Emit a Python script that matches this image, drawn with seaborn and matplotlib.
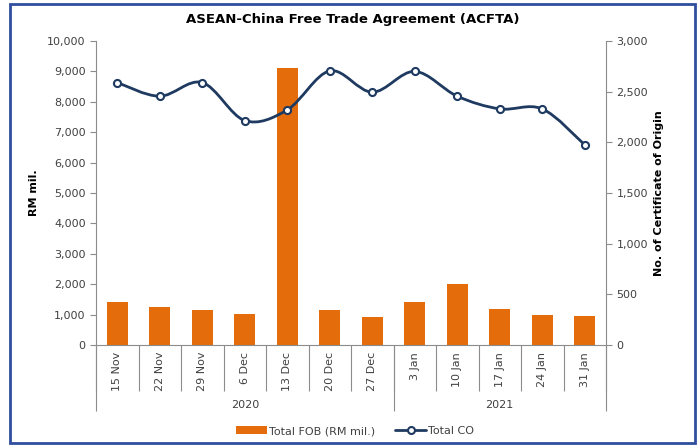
import numpy as np
import pandas as pd
import matplotlib
matplotlib.use("Agg")
import matplotlib.pyplot as plt
import seaborn as sns
from matplotlib.path import Path
from matplotlib.patches import PathPatch, Rectangle, Patch
from matplotlib.lines import Line2D
from matplotlib.ticker import MultipleLocator, FuncFormatter

# data
weeks = ["15 Nov", "22 Nov", "29 Nov", "6 Dec", "13 Dec", "20 Dec", "27 Dec",
         "3 Jan", "10 Jan", "17 Jan", "24 Jan", "31 Jan"]
years = ["2020"] * 7 + ["2021"] * 5
total_fob = [1430, 1235, 1155, 1035, 9100, 1135, 915, 1400, 1995, 1200, 980, 950]
total_co = [2590, 2455, 2590, 2215, 2320, 2705, 2495, 2700, 2455, 2330, 2330, 1975]

orange = "#E46C0A"
navy = "#1F3A60"
grey = "#8C8C8C"
txt = "#404040"

sns.set_theme(style="white")
plt.rcParams['font.family'] = ['DejaVu Sans']

fig = plt.figure(figsize=(6.99, 4.46), dpi=100)
ax = fig.add_axes([96 / 699, 1 - 345 / 446, 510 / 699, 304 / 446])

df = pd.DataFrame({"week": weeks, "fob": total_fob, "co": total_co, "year": years})
sns.barplot(data=df, x="week", y="fob", color=orange, width=0.5, saturation=1,
            linewidth=0, ax=ax)
ax.set_xlim(-0.5, len(weeks) - 0.5)
ax.set_ylim(0, 10000)
ax.yaxis.set_major_locator(MultipleLocator(1000))
ax.yaxis.set_major_formatter(FuncFormatter(lambda v, p: f"{int(v):,}"))
ax.set_xlabel("")
ax.set_ylabel("RM mil.", fontsize=8, fontweight="bold", color="black", labelpad=6)

# category labels + separators
pos = np.arange(len(weeks))
ax.set_xticks(pos)
ax.set_xticklabels(weeks, rotation=90, fontsize=8, color=txt, va="top")
ax.tick_params(axis="x", which="major", length=0, pad=5)
ax.set_xticks(np.arange(-0.5, len(weeks), 1), minor=True)
ax.tick_params(axis="x", which="minor", bottom=True, length=33, width=0.8, color=grey,
               direction="out")
ax.tick_params(axis="y", length=4, width=0.8, color=grey, direction="out", labelsize=8,
               labelcolor=txt, left=True)

# year groups
bounds = [-0.5]
for i in range(1, len(years)):
    if years[i] != years[i - 1]:
        bounds.append(i - 0.5)
bounds.append(len(years) - 0.5)
ax.vlines(bounds, 0, -66 / 304, transform=ax.get_xaxis_transform(), clip_on=False,
          color=grey, lw=0.8)
for a, b in zip(bounds[:-1], bounds[1:]):
    yr = years[int(a + 0.5)]
    ax.text((a + b) / 2, -60 / 304, yr, transform=ax.get_xaxis_transform(),
            ha="center", va="center", fontsize=8, color=txt)

for s in ["top", "right"]:
    ax.spines[s].set_visible(False)
for s in ["left", "bottom"]:
    ax.spines[s].set_color(grey)
    ax.spines[s].set_linewidth(0.8)

# secondary axis: certificates of origin, smoothed line
ax2 = ax.twinx()
ax2.set_ylim(0, 3000)
ax2.set_xlim(-0.5, len(weeks) - 0.5)
ax2.yaxis.set_major_locator(MultipleLocator(500))
ax2.yaxis.set_major_formatter(FuncFormatter(lambda v, p: f"{int(v):,}"))
ax2.tick_params(axis="y", length=4, width=0.8, color=grey, direction="out", labelsize=8,
                labelcolor=txt, right=True)
ax2.set_ylabel("No. of Certificate of Origin", fontsize=8, fontweight="bold",
               color="black", labelpad=4)
ax2.grid(False)
for s in ["top", "left", "bottom"]:
    ax2.spines[s].set_visible(False)
ax2.spines["right"].set_color(grey)
ax2.spines["right"].set_linewidth(0.8)

pts = np.column_stack([pos, total_co]).astype(float)
verts = [pts[0]]
codes = [Path.MOVETO]
n = len(pts)
for i in range(n - 1):
    p0 = pts[i - 1] if i > 0 else pts[i]
    p1 = pts[i]
    p2 = pts[i + 1]
    p3 = pts[i + 2] if i + 2 < n else pts[i + 1]
    c1 = p1 + (p2 - p0) / 6
    c2 = p2 - (p3 - p1) / 6
    verts += [c1, c2, p2]
    codes += [Path.CURVE4] * 3
ax2.add_patch(PathPatch(Path(verts, codes), facecolor="none", edgecolor=navy, lw=2.0,
                        zorder=4, capstyle="round", joinstyle="round"))
sns.scatterplot(x=pos, y=total_co, ax=ax2, s=26, color="white", edgecolor=navy,
                linewidth=1.5, zorder=5)
ax2.set_xlim(-0.5, len(weeks) - 0.5)

fig.text(353 / 699, 1 - 20 / 446, "ASEAN-China Free Trade Agreement (ACFTA)",
         ha="center", va="center", fontsize=9.5, fontweight="bold", color="black")

handles = [Patch(facecolor=orange, edgecolor="none"),
           Line2D([], [], color=navy, lw=2, marker="o", markerfacecolor="white",
                  markeredgecolor=navy, markersize=5, markeredgewidth=1.5)]
fig.legend(handles, ["Total FOB (RM mil.)", "Total CO"], loc="center",
           bbox_to_anchor=(355 / 699, 1 - 431 / 446), ncol=2, frameon=False,
           fontsize=8, handlelength=2.8, handletextpad=0.2, columnspacing=1.8,
           labelcolor=txt)

fig.patches.append(Rectangle((10 / 699, 1 - 443 / 446), 685 / 699, 439 / 446,
                             transform=fig.transFigure, fill=False,
                             edgecolor="#2F4E9E", lw=2))

fig.savefig("out.png", dpi=100)
